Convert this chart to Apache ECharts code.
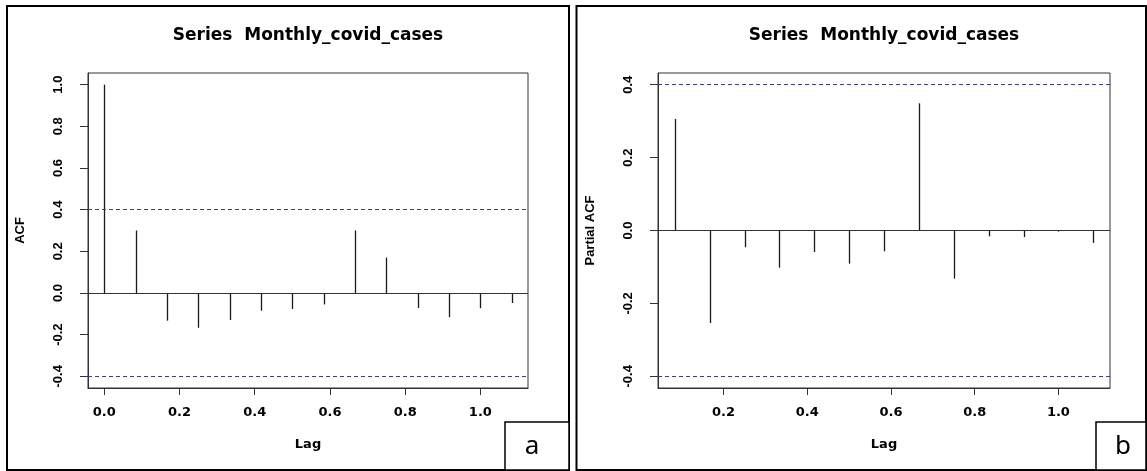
<!DOCTYPE html>
<html>
<head>
<meta charset="utf-8">
<script src="https://cdn.jsdelivr.net/npm/echarts@6/dist/echarts.min.js"></script>
<style>
html,body{margin:0;padding:0;background:#fff;}
#chart{width:1147px;height:471px;}
</style>
</head>
<body>
<div id="chart"></div>
<script>
// ---- data ----
const acfLags = [0, 0.0833, 0.1667, 0.25, 0.3333, 0.4167, 0.5, 0.5833, 0.6667, 0.75, 0.8333, 0.9167, 1.0, 1.0833];
const acfValues = [1.0, 0.30, -0.133, -0.167, -0.13, -0.085, -0.077, -0.055, 0.30, 0.17, -0.072, -0.116, -0.073, -0.048];
const pacfLags = [0.0833, 0.1667, 0.25, 0.3333, 0.4167, 0.5, 0.5833, 0.6667, 0.75, 0.8333, 0.9167, 1.0, 1.0833];
const pacfValues = [0.306, -0.254, -0.046, -0.102, -0.059, -0.091, -0.057, 0.349, -0.132, -0.016, -0.018, -0.003, -0.034];
const confLimit = 0.4001;
const acfXTicks = [0, 0.2, 0.4, 0.6, 0.8, 1.0];
const pacfXTicks = [0.2, 0.4, 0.6, 0.8, 1.0];
const acfYTicks = [-0.4, -0.2, 0, 0.2, 0.4, 0.6, 0.8, 1.0];
const pacfYTicks = [-0.4, -0.2, 0, 0.2, 0.4];
const titleText = 'Series  Monthly_covid_cases';
const acfName = 'ACF';
const pacfName = 'Partial ACF';
const xName = 'Lag';
const panelLabels = ['a', 'b'];

// R-style 4% range extension
function extRange(lo, hi) { const d = (hi - lo) * 0.04; return [lo - d, hi + d]; }
const acfX = extRange(Math.min(...acfLags), Math.max(...acfLags));
const pacfX = extRange(Math.min(...pacfLags), Math.max(...pacfLags));
const acfY = extRange(Math.min(-confLimit, ...acfValues), 1);
const pacfY = extRange(Math.min(-confLimit, ...pacfValues), Math.max(confLimit, ...pacfValues));

const chart = echarts.init(document.getElementById('chart'), null, {renderer: 'canvas'});

const fmt = v => (Math.abs(v) < 1e-9 ? 0 : v).toFixed(1);
const hFont = {fontFamily: 'DejaVu Sans', fontWeight: 'bold', fontSize: 13, color: '#000'};
const vFont = {fontFamily: 'Liberation Sans', fontWeight: 'bold', fontSize: 13, color: '#000'};
const axisColor = '#333';

function xAxisOpt(idx, range, ticks) {
  return {
    type: 'value', gridIndex: idx, min: range[0], max: range[1], position: 'bottom',
    axisLine: {show: true, onZero: false, lineStyle: {color: axisColor, width: 1}}, splitLine: {show: false},
    axisTick: {show: true, inside: false, length: 7, customValues: ticks, lineStyle: {color: axisColor, width: 1}},
    axisLabel: Object.assign({customValues: ticks, margin: 18, formatter: fmt}, hFont),
    name: xName, nameLocation: 'middle', nameGap: 50,
    nameTextStyle: Object.assign({}, hFont)
  };
}
function yAxisOpt(idx, range, ticks, name) {
  return {
    type: 'value', gridIndex: idx, min: range[0], max: range[1], position: 'left',
    axisLine: {show: true, onZero: false, lineStyle: {color: axisColor, width: 1}}, splitLine: {show: false},
    axisTick: {show: true, inside: false, length: 8, customValues: ticks, lineStyle: {color: axisColor, width: 1}},
    axisLabel: Object.assign({customValues: ticks, margin: 23, rotate: 90, formatter: fmt}, vFont),
    name: name, nameLocation: 'middle', nameRotate: 90, nameGap: 61,
    nameTextStyle: Object.assign({}, vFont)
  };
}

function spikeSeries(idx, lags, vals) {
  return {
    type: 'custom', xAxisIndex: idx, yAxisIndex: idx,
    data: lags.map((l, i) => [l, vals[i]]),
    renderItem: function (params, api) {
      const x = api.value(0), y = api.value(1);
      const p0 = api.coord([x, 0]), p1 = api.coord([x, y]);
      const px = Math.round(p0[0]) + 0.5;
      return {type: 'line', shape: {x1: px, y1: p0[1], x2: px, y2: p1[1]},
              style: {stroke: '#1a1a1a', lineWidth: 1.3}};
    },
    silent: true,
    markLine: {
      silent: true, symbol: ['none', 'none'], label: {show: false},
      data: [
        {yAxis: 0, lineStyle: {color: '#333', width: 1, type: 'solid'}},
        {yAxis: confLimit, lineStyle: {color: '#3b3ba8', width: 1, type: [4, 3]}},
        {yAxis: -confLimit, lineStyle: {color: '#3b3ba8', width: 1, type: [4, 3]}}
      ]
    }
  };
}

const grids = [
  {left: 88, top: 73, width: 440, height: 315, show: true, borderColor: axisColor, borderWidth: 1, backgroundColor: 'transparent'},
  {left: 658, top: 73, width: 452, height: 315, show: true, borderColor: axisColor, borderWidth: 1, backgroundColor: 'transparent'}
];

const titleFont = 'bold 17px "DejaVu Sans"';
const option = {
  animation: false,
  backgroundColor: '#fff',
  grid: grids,
  xAxis: [xAxisOpt(0, acfX, acfXTicks), xAxisOpt(1, pacfX, pacfXTicks)],
  yAxis: [yAxisOpt(0, acfY, acfYTicks, acfName), yAxisOpt(1, pacfY, pacfYTicks, pacfName)],
  series: [spikeSeries(0, acfLags, acfValues), spikeSeries(1, pacfLags, pacfValues)],
  graphic: [
    {type: 'rect', silent: true, z: 100, shape: {x: 7, y: 6, width: 562, height: 464}, style: {fill: 'none', stroke: '#000', lineWidth: 2}},
    {type: 'rect', silent: true, z: 100, shape: {x: 576.5, y: 6, width: 569.5, height: 464}, style: {fill: 'none', stroke: '#000', lineWidth: 2}},
    {type: 'rect', silent: true, z: 100, shape: {x: 505, y: 422, width: 64, height: 48}, style: {fill: '#fff', stroke: '#000', lineWidth: 1.5}},
    {type: 'rect', silent: true, z: 100, shape: {x: 1096, y: 422, width: 50, height: 48}, style: {fill: '#fff', stroke: '#000', lineWidth: 1.5}},
    {type: 'text', silent: true, z: 101, x: 532, y: 447, style: {text: panelLabels[0], font: '26px "Noto Sans"', fill: '#000', textAlign: 'center', textVerticalAlign: 'middle'}},
    {type: 'text', silent: true, z: 101, x: 1123, y: 447, style: {text: panelLabels[1], font: '26px "Noto Sans"', fill: '#000', textAlign: 'center', textVerticalAlign: 'middle'}},
    {type: 'text', silent: true, z: 101, x: 308, y: 36, style: {text: titleText, font: titleFont, fill: '#000', textAlign: 'center', textVerticalAlign: 'middle'}},
    {type: 'text', silent: true, z: 101, x: 884, y: 36, style: {text: titleText, font: titleFont, fill: '#000', textAlign: 'center', textVerticalAlign: 'middle'}}
  ]
};
chart.setOption(option);
</script>
</body>
</html>
